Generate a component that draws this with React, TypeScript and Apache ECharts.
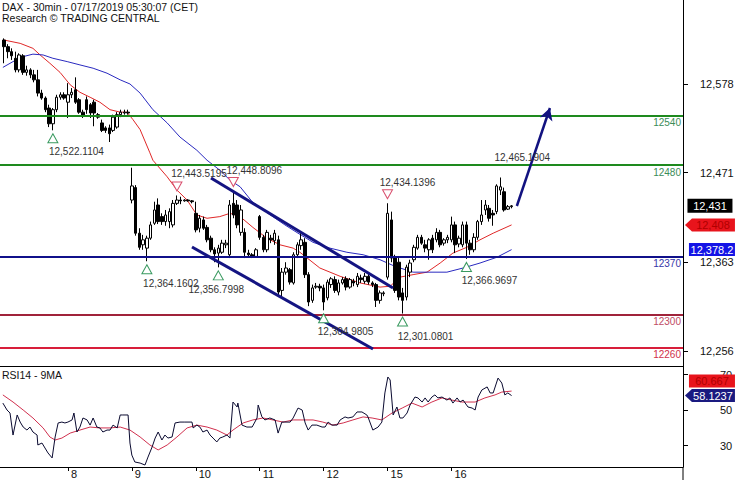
import React, { useEffect, useRef } from "react";
import * as echarts from "echarts";

const FONT = "'Liberation Sans', Arial, sans-serif";

const TITLE = "DAX - 30min - 07/17/2019 05:30:07 (CET)";
const SUBTITLE = "Research © TRADING CENTRAL";
const RSI_TITLE = "RSI14 - 9MA";

// 30-minute bars, one per slot: [open, close, low, high]
const bars: number[][] = [
  // Jul 5
  [12631, 12623, 12603, 12633], [12623, 12617, 12609, 12626], [12617, 12612, 12607, 12621],
  [12609, 12595, 12592, 12617], [12595, 12613, 12592, 12615], [12612, 12592, 12589, 12614],
  [12592, 12595, 12588, 12600], [12595, 12589, 12585, 12597], [12589, 12583, 12580, 12595],
  [12583, 12567, 12563, 12595], [12567, 12561, 12559, 12571], [12561, 12547, 12544, 12563],
  [12549, 12530, 12526, 12553], [12530, 12547, 12522.1104, 12549], [12547, 12562, 12544, 12565],
  [12562, 12565, 12559, 12568], [12565, 12561, 12559, 12568],
  // Jul 8
  [12556, 12565, 12537, 12579], [12565, 12568, 12561, 12573], [12571, 12556, 12554, 12586],
  [12559, 12544, 12542, 12561], [12544, 12539, 12537, 12547], [12559, 12547, 12542, 12563],
  [12553, 12543, 12537, 12555], [12556, 12543, 12527, 12559], [12541, 12538, 12536, 12543],
  [12531, 12522, 12520, 12535], [12525, 12522, 12519, 12527], [12525, 12518, 12508, 12529],
  [12522, 12538, 12520, 12541], [12526, 12541, 12524, 12544], [12541, 12544, 12538, 12547],
  [12543, 12544, 12541, 12547], [12544, 12543, 12541, 12547],
  // Jul 9
  [12438, 12455, 12434, 12477], [12453, 12398, 12395, 12456], [12398, 12381, 12378, 12404],
  [12384, 12390, 12378, 12396], [12380, 12392, 12364.1602, 12395], [12392, 12408, 12390, 12412],
  [12410, 12426, 12408, 12436], [12432, 12412, 12409, 12440], [12418, 12412, 12408, 12422],
  [12412, 12420, 12407, 12426], [12412, 12424, 12404, 12428], [12408, 12434, 12405, 12438],
  [12434, 12438, 12432, 12443.5195], [12438, 12437, 12433, 12442], [12437, 12438, 12436, 12439],
  [12438, 12437, 12436, 12439], [12437, 12436, 12434, 12438],
  // Jul 10
  [12422, 12402, 12399, 12436], [12404, 12416, 12399, 12420], [12414, 12404, 12402, 12418],
  [12405, 12390, 12387, 12408], [12392, 12378, 12375, 12395], [12378, 12373, 12363, 12381],
  [12374, 12380, 12356.7998, 12384], [12375, 12386, 12373, 12390], [12384, 12386, 12380, 12390],
  [12372, 12432, 12368, 12438], [12434, 12420, 12416, 12448.8096], [12432, 12408, 12404, 12438],
  [12399, 12426, 12395, 12432], [12399, 12375, 12368, 12404], [12374, 12372, 12369, 12378],
  [12372, 12370, 12368, 12374], [12370, 12378, 12369, 12380],
  // Jul 11
  [12418, 12393, 12390, 12420], [12393, 12378, 12375, 12396], [12378, 12399, 12375, 12402],
  [12392, 12390, 12386, 12396], [12389, 12398, 12384, 12402], [12390, 12327, 12322, 12395],
  [12329, 12351, 12320, 12356], [12351, 12356, 12348, 12363], [12354, 12339, 12336, 12356],
  [12338, 12372, 12336, 12375], [12372, 12384, 12368, 12387], [12383, 12390, 12378, 12398],
  [12387, 12348, 12344, 12392], [12348, 12315, 12310, 12351], [12317, 12332, 12314, 12336],
  [12333, 12334, 12331, 12338], [12334, 12332, 12328, 12337],
  // Jul 12
  [12332, 12315, 12304.9805, 12336], [12320, 12339, 12317, 12342], [12336, 12343, 12332, 12345],
  [12342, 12329, 12326, 12346], [12327, 12338, 12323, 12342], [12338, 12342, 12336, 12345],
  [12343, 12333, 12329, 12346], [12333, 12342, 12331, 12344], [12340, 12338, 12334, 12343],
  [12336, 12346, 12333, 12350], [12344, 12342, 12338, 12348], [12340, 12346, 12337, 12350],
  [12346, 12339, 12336, 12349], [12338, 12336, 12333, 12340], [12336, 12317, 12309, 12338],
  [12317, 12326, 12313, 12329], [12325, 12326, 12322, 12328],
  // Jul 15
  [12345, 12422, 12342, 12434.1396], [12414, 12368, 12363, 12424], [12368, 12329, 12326, 12372],
  [12363, 12321, 12317, 12368], [12326, 12317, 12301.0801, 12332], [12321, 12357, 12317, 12360],
  [12351, 12362, 12345, 12366], [12366, 12381, 12363, 12384], [12380, 12393, 12378, 12396],
  [12393, 12386, 12384, 12396], [12384, 12380, 12375, 12390], [12378, 12390, 12366, 12392],
  [12392, 12378, 12374, 12396], [12390, 12399, 12387, 12404], [12399, 12384, 12381, 12402],
  [12386, 12390, 12383, 12392], [12390, 12393, 12386, 12396],
  // Jul 16
  [12390, 12408, 12387, 12418], [12408, 12384, 12374, 12412], [12385, 12392, 12381, 12395],
  [12384, 12408, 12381, 12412], [12408, 12386, 12366.9697, 12412], [12386, 12378, 12372, 12390],
  [12378, 12393, 12375, 12398], [12393, 12412, 12390, 12414], [12412, 12420, 12408, 12438],
  [12426, 12432, 12420, 12438], [12428, 12416, 12412, 12432], [12422, 12420, 12407, 12426],
  [12424, 12455, 12421, 12457], [12450, 12454, 12444, 12465.1904], [12448, 12426, 12424, 12453],
  [12427, 12430, 12426, 12432], [12430, 12431, 12428, 12432],
];

const dayTickIndex = [17, 34, 51, 68, 85, 102, 119];
const dayLabels = ["8", "9", "10", "11", "12", "15", "16"];

const priceTicks = [12256, 12363, 12471, 12578];
const rsiTicks = [30, 50, 70];

// [bar position, price]
const maFast: number[][] = [
  [0, 12631], [4.3, 12627], [7.7, 12621], [9.6, 12613], [12.2, 12603], [14.9, 12592],
  [17.6, 12577], [20.2, 12568], [22.9, 12562], [25.5, 12556], [28.2, 12547], [30.9, 12544],
  [32.7, 12544], [34.3, 12535], [36.2, 12523], [38.8, 12495], [39.6, 12486], [43.4, 12466],
  [46.0, 12450], [48.7, 12438], [51.3, 12420], [54.0, 12416], [57.4, 12418], [60.1, 12422],
  [62.8, 12418], [66.2, 12405], [69.9, 12392], [73.4, 12384], [76.9, 12380], [78.7, 12375],
  [84.0, 12356], [89.4, 12346], [94.7, 12338], [100.0, 12333], [102.7, 12334], [105.3, 12345],
  [108.8, 12348], [112.5, 12351], [116.0, 12362], [119.4, 12374], [123.1, 12381],
  [126.6, 12390], [130.1, 12398], [135.0, 12408],
];
const maSlow: number[][] = [
  [-0.3, 12598], [2.4, 12605], [5.1, 12611], [7.7, 12614], [10.4, 12613], [13.0, 12609],
  [16.8, 12605], [20.2, 12601], [23.7, 12597], [27.4, 12591], [30.9, 12583], [33.5, 12578],
  [36.2, 12567], [39.6, 12547], [43.4, 12531], [46.8, 12514], [51.3, 12498], [54.0, 12486],
  [57.4, 12474], [60.1, 12462], [62.8, 12454], [66.0, 12436], [70.2, 12422], [74.7, 12408],
  [78.2, 12398], [82.2, 12387], [86.7, 12380], [91.2, 12375], [95.5, 12372], [100.0, 12366],
  [104.0, 12358], [108.8, 12351], [113.3, 12351], [117.8, 12351], [122.1, 12356],
  [126.6, 12362], [131.1, 12369], [135.0, 12378.2],
];

const rsi: number[][] = [
  [-0.3, 53.9], [0.8, 50.0], [1.6, 48.3], [2.4, 35.9], [3.5, 47.2], [4.3, 43.2], [5.1, 40.4],
  [6.1, 38.7], [6.9, 40.4], [7.7, 37.6], [8.8, 35.9], [9.0, 30.3], [10.1, 31.4], [10.9, 28.6],
  [11.7, 25.8], [12.8, 23.0], [13.6, 34.8], [14.4, 42.7], [15.4, 43.2], [16.2, 42.7],
  [17.0, 43.2], [18.1, 44.4], [18.6, 48.3], [19.4, 37.6], [20.2, 40.4], [21.0, 45.5],
  [22.1, 44.4], [22.9, 41.5], [23.7, 45.5], [24.7, 40.4], [25.5, 39.9], [26.3, 37.6],
  [27.4, 38.7], [28.2, 38.7], [29.0, 41.5], [30.1, 39.9], [30.9, 47.2], [31.6, 47.2],
  [33.0, 47.2], [33.5, 31.4], [34.0, 24.6], [34.8, 20.7], [36.2, 20.1], [37.5, 19.0],
  [38.3, 23.5], [39.4, 29.2], [40.2, 34.2], [41.0, 37.6], [42.0, 33.1], [42.8, 35.9],
  [43.6, 34.2], [44.7, 34.8], [45.5, 42.7], [46.8, 43.2], [48.1, 43.2], [50.0, 43.2],
  [50.3, 39.9], [51.3, 41.5], [52.1, 40.4], [52.9, 37.6], [54.0, 38.7], [54.8, 35.9],
  [55.6, 34.2], [56.6, 32.0], [57.4, 34.2], [58.2, 34.8], [59.3, 35.9], [60.1, 34.2],
  [60.9, 54.5], [62.0, 51.7], [62.2, 53.9], [63.3, 41.5], [64.6, 40.4], [66.0, 40.4],
  [67.3, 45.5], [67.6, 52.8], [68.6, 46.1], [69.4, 44.4], [70.7, 45.5], [72.1, 44.4],
  [72.9, 37.0], [73.9, 43.2], [74.7, 43.2], [76.1, 43.2], [76.9, 45.5], [78.2, 51.1],
  [79.3, 50.0], [80.1, 42.7], [80.9, 38.7], [81.9, 41.5], [83.2, 41.5], [84.6, 40.4],
  [85.4, 40.4], [86.2, 43.2], [87.2, 41.5], [88.6, 41.5], [89.4, 44.4], [90.7, 46.1],
  [91.5, 45.5], [92.8, 46.1], [93.9, 48.9], [95.2, 48.9], [96.5, 47.2], [96.8, 46.1],
  [98.1, 38.7], [99.5, 40.4], [100.5, 43.2], [101.3, 59.6], [102.1, 68.6], [102.7, 66.9],
  [103.5, 47.2], [104.5, 51.7], [105.3, 45.5], [106.1, 45.5], [107.2, 48.3], [108.0, 52.8],
  [109.3, 57.3], [110.1, 56.8], [111.2, 54.5], [112.0, 56.8], [112.8, 54.5], [113.8, 57.3],
  [114.6, 58.5], [115.4, 56.8], [116.5, 57.3], [117.8, 55.6], [118.6, 56.8], [119.4, 53.9],
  [120.5, 56.8], [121.3, 54.5], [122.1, 55.6], [123.4, 51.7], [124.5, 51.1], [125.3, 50.0],
  [126.1, 57.3], [127.1, 61.3], [128.5, 63.0], [129.3, 59.6], [130.1, 59.6], [131.4, 68.0],
  [132.4, 65.2], [133.2, 58.5], [134.0, 59.6], [135.0, 58.1237],
];
const rsiMa: number[][] = [
  [-0.3, 58.5], [2.4, 54.5], [5.1, 50.0], [7.7, 45.5], [10.4, 39.9], [12.2, 34.8], [13.6, 33.1],
  [15.4, 34.2], [17.6, 37.0], [20.2, 38.7], [22.9, 40.4], [25.5, 39.9], [28.2, 39.9],
  [30.9, 40.4], [33.5, 38.7], [36.2, 34.8], [38.8, 30.3], [41.0, 27.5], [43.4, 30.3],
  [46.0, 34.8], [48.7, 39.9], [51.3, 41.5], [54.0, 40.4], [56.6, 38.7], [59.3, 35.9],
  [60.9, 38.7], [63.6, 42.7], [66.2, 44.4], [68.9, 45.5], [71.5, 44.4], [74.2, 43.2],
  [76.9, 44.4], [79.5, 44.4], [82.2, 44.4], [84.8, 43.2], [87.5, 41.5], [90.2, 42.7],
  [92.8, 44.4], [95.5, 46.1], [97.9, 45.5], [100.5, 44.4], [103.2, 48.3], [105.9, 51.1],
  [108.5, 53.9], [111.2, 51.7], [113.8, 54.5], [116.5, 56.8], [119.1, 55.6], [121.8, 54.5],
  [125.3, 54.5], [127.9, 56.8], [130.6, 58.5], [132.4, 60.1], [135.0, 60.667],
];

const levels = [12540, 12480, 12370, 12300, 12260];

const channelUpper = [[55.05, 12464.6], [103.46, 12331.9]];
const channelLower = [[50.0, 12381.3], [98.14, 12258.3]];
const forecastArrow = [[136.4, 12430.8], [145.2, 12549.0]];

const swingLows = [
  [13, 12522.1104], [38, 12364.1602], [57, 12356.7998],
  [85, 12304.9805], [106, 12301.0801], [123, 12366.9697],
];
const swingHighs = [[46, 12443.5195], [61, 12448.8096], [102, 12434.1396]];
const peak = [132, 12465.1904];

const lastClose = 12431;
const lastFast = 12408;
const lastSlow = 12378.2;
const lastRsi = 58.1237;
const lastRsiMa = 60.667;

// ---- layout / styles ----
const XMIN = -1.064;
const XMAX = 180.59;
const TAG_X = XMAX - 0.01;
const PRICE_MIN = 12237.8;
const PRICE_MAX = 12679.3;
const RSI_MIN = 17.89;
const RSI_MAX = 74.79;

const levelLine = ["#1e8a1e", "#1e8a1e", "#10108a", "#a0233a", "#d81e3a"];
const levelText = ["#3a8c58", "#3a8c58", "#3535a8", "#c04c64", "#d0304a"];
const lowLabelOffset = [[23.5, 13], [24, 14], [-2, 14], [22, 13], [23, 15], [23, 14]];
const highLabelOffset = [[22, -13], [21, -12], [20, -12]];

const fmt4 = (v: number) =>
  v.toLocaleString("en-US", { minimumFractionDigits: 4, maximumFractionDigits: 4 });

const ARROW_TAG = "path://M0,7L7,0L50,0L50,14L7,14Z";

function buildOption(): any {
  const candleData = bars.map((b, i) => [i, b[0], b[1], b[2], b[3]]);

  const levelItems = levels.map((v, k) => ({
    yAxis: v,
    lineStyle: { color: levelLine[k], width: 2, type: "solid" },
    label: {
      show: true,
      position: "insideEndBottom",
      distance: [2, 2],
      formatter: String(v),
      color: levelText[k],
      fontSize: 10,
      fontFamily: FONT,
    },
  }));

  const trendStyle = { color: "#141482", width: 3, type: "solid" };
  const lineItems: any[] = [
    [
      { coord: channelUpper[0], lineStyle: trendStyle, label: { show: false } },
      { coord: channelUpper[1] },
    ],
    [
      { coord: channelLower[0], lineStyle: trendStyle, label: { show: false } },
      { coord: channelLower[1] },
    ],
    [
      {
        coord: forecastArrow[0],
        symbol: "none",
        lineStyle: { color: "#121280", width: 2.5, type: "solid" },
        label: { show: false },
      },
      { coord: forecastArrow[1], symbol: "arrow", symbolSize: [10, 12] },
    ],
  ];

  const textLabel = (txt: string, off: number[]) => ({
    show: true,
    position: "inside",
    offset: off,
    formatter: txt,
    color: "#333",
    fontSize: 10,
    fontFamily: FONT,
  });

  const pointItems: any[] = [
    ...swingLows.map((p, k) => ({
      coord: p,
      symbol: "triangle",
      symbolSize: [10, 9],
      symbolOffset: [0, 8],
      itemStyle: { color: "#fff", borderColor: "#3a9a60", borderWidth: 1 },
      label: textLabel(fmt4(p[1]), lowLabelOffset[k]),
    })),
    ...swingHighs.map((p, k) => ({
      coord: p,
      symbol: "triangle",
      symbolRotate: 180,
      symbolSize: [10, 9],
      symbolOffset: [0, -9],
      itemStyle: { color: "#fff", borderColor: "#d9506e", borderWidth: 1 },
      label: textLabel(fmt4(p[1]), highLabelOffset[k]),
    })),
    {
      coord: peak,
      symbol: "circle",
      symbolSize: 1,
      itemStyle: { color: "rgba(0,0,0,0)" },
      label: textLabel(fmt4(peak[1]), [22, -20]),
    },
    {
      coord: [TAG_X, lastClose],
      symbol: "rect",
      symbolSize: [45, 14],
      symbolOffset: [27, 0],
      itemStyle: { color: "#000" },
      label: {
        show: true,
        position: "inside",
        formatter: Math.round(lastClose).toLocaleString("en-US"),
        color: "#fff",
        fontSize: 11,
        fontFamily: FONT,
      },
    },
  ];

  return {
    animation: false,
    backgroundColor: "#fff",
    textStyle: { fontFamily: FONT },
    title: [
      {
        text: TITLE,
        subtext: SUBTITLE,
        left: 2,
        top: 1,
        padding: 0,
        itemGap: 0,
        textStyle: { fontSize: 10.5, fontWeight: "normal", color: "#111", fontFamily: FONT },
        subtextStyle: { fontSize: 10.5, color: "#111", fontFamily: FONT },
      },
      {
        text: RSI_TITLE,
        left: 2,
        top: 369,
        padding: 0,
        textStyle: { fontSize: 10.5, fontWeight: "normal", color: "#111", fontFamily: FONT },
      },
    ],
    grid: [
      { left: 0, top: 0, width: 683, height: 366, show: false, outerBoundsMode: "none" },
      { left: 0, top: 366, width: 683, height: 101, show: false, outerBoundsMode: "none" },
    ],
    xAxis: [
      {
        type: "value",
        gridIndex: 0,
        min: XMIN,
        max: XMAX,
        axisLine: { show: true, onZero: false, lineStyle: { color: "#000", width: 1 } },
        axisTick: { show: false },
        axisLabel: { show: false },
        splitLine: { show: false },
      },
      {
        type: "value",
        gridIndex: 1,
        min: XMIN,
        max: XMAX,
        axisLine: { show: true, onZero: false, lineStyle: { color: "#000", width: 1 } },
        axisTick: {
          show: true,
          customValues: dayTickIndex,
          length: 4,
          inside: false,
          lineStyle: { color: "#000" },
        },
        axisLabel: {
          show: true,
          customValues: dayTickIndex,
          formatter: (v: number) => dayLabels[dayTickIndex.indexOf(Math.round(v))] ?? "",
          align: "left",
          padding: [0, 0, 0, 3],
          margin: 1,
          fontSize: 11,
          color: "#111",
          fontFamily: FONT,
        },
        splitLine: { show: false },
      },
    ],
    yAxis: [
      {
        type: "value",
        gridIndex: 0,
        position: "right",
        min: PRICE_MIN,
        max: PRICE_MAX,
        axisLine: { show: true, onZero: false, lineStyle: { color: "#000", width: 1 } },
        axisTick: { show: true, customValues: priceTicks, length: 5, lineStyle: { color: "#000" } },
        axisLabel: {
          show: true,
          customValues: priceTicks,
          formatter: (v: number) => Math.round(v).toLocaleString("en-US"),
          margin: 17,
          fontSize: 11,
          color: "#111",
          fontFamily: FONT,
        },
        splitLine: { show: false },
      },
      {
        type: "value",
        gridIndex: 1,
        position: "right",
        min: RSI_MIN,
        max: RSI_MAX,
        axisLine: { show: true, onZero: false, lineStyle: { color: "#000", width: 1 } },
        axisTick: { show: true, customValues: rsiTicks, length: 5, lineStyle: { color: "#000" } },
        axisLabel: {
          show: true,
          customValues: rsiTicks,
          formatter: (v: number) => String(Math.round(v)),
          margin: 37,
          fontSize: 11,
          color: "#111",
          fontFamily: FONT,
        },
        splitLine: { show: false },
      },
    ],
    graphic: [
      {
        type: "line",
        shape: { x1: 683, y1: 467, x2: 683, y2: 480 },
        style: { stroke: "#000", lineWidth: 1 },
      },
    ],
    series: [
      {
        type: "line",
        name: "MA fast",
        xAxisIndex: 0,
        yAxisIndex: 0,
        data: maFast,
        showSymbol: false,
        symbol: "none",
        lineStyle: { color: "#e02828", width: 1 },
        z: 3,
        markPoint: {
          silent: true,
          data: [
            {
              coord: [TAG_X, lastFast],
              symbol: ARROW_TAG,
              symbolKeepAspect: false,
              symbolSize: [50, 13],
              symbolOffset: [27, 0],
              itemStyle: { color: "#e8141c" },
              label: {
                show: true,
                position: "inside",
                offset: [3, 0],
                formatter: Math.round(lastFast).toLocaleString("en-US"),
                color: "#b00000",
                fontSize: 11,
                fontFamily: FONT,
              },
            },
          ],
        },
      },
      {
        type: "line",
        name: "MA slow",
        xAxisIndex: 0,
        yAxisIndex: 0,
        data: maSlow,
        showSymbol: false,
        symbol: "none",
        lineStyle: { color: "#2a2ac0", width: 1 },
        z: 3,
        markPoint: {
          silent: true,
          data: [
            {
              coord: [TAG_X, lastSlow],
              symbol: "rect",
              symbolSize: [46, 13],
              symbolOffset: [29, 0],
              itemStyle: { color: "#1414e6" },
              label: {
                show: true,
                position: "inside",
                formatter: lastSlow.toLocaleString("en-US", { minimumFractionDigits: 1 }),
                color: "#fff",
                fontSize: 11,
                fontFamily: FONT,
              },
            },
          ],
        },
      },
      {
        type: "candlestick",
        name: "DAX",
        xAxisIndex: 0,
        yAxisIndex: 0,
        data: candleData,
        barWidth: 3,
        z: 4,
        itemStyle: {
          color: "#fff",
          color0: "#000",
          borderColor: "#000",
          borderColor0: "#000",
          borderWidth: 1,
        },
        markLine: {
          silent: true,
          symbol: ["none", "none"],
          data: [...levelItems, ...lineItems],
        },
        markPoint: { silent: true, data: pointItems },
      },
      {
        type: "line",
        name: "RSI14",
        xAxisIndex: 1,
        yAxisIndex: 1,
        data: rsi,
        showSymbol: false,
        symbol: "none",
        lineStyle: { color: "#0a0a30", width: 1 },
        z: 4,
        markPoint: {
          silent: true,
          data: [
            {
              coord: [TAG_X, lastRsi],
              symbol: ARROW_TAG,
              symbolKeepAspect: false,
              symbolSize: [50, 13],
              symbolOffset: [27, 0],
              itemStyle: { color: "#1a1a80" },
              label: {
                show: true,
                position: "inside",
                offset: [3, 0],
                formatter: String(lastRsi),
                color: "#fff",
                fontSize: 11,
                fontFamily: FONT,
              },
            },
          ],
        },
      },
      {
        type: "line",
        name: "RSI MA9",
        xAxisIndex: 1,
        yAxisIndex: 1,
        data: rsiMa,
        showSymbol: false,
        symbol: "none",
        lineStyle: { color: "#d0304e", width: 1 },
        z: 3,
        markPoint: {
          silent: true,
          data: [
            {
              coord: [TAG_X, lastRsiMa],
              symbol: "rect",
              symbolSize: [46, 13],
              symbolOffset: [29, -10],
              itemStyle: { color: "#e8141c" },
              label: {
                show: true,
                position: "inside",
                formatter: String(lastRsiMa),
                color: "#b00000",
                fontSize: 11,
                fontFamily: FONT,
              },
            },
          ],
        },
      },
    ],
  };
}

export default function App() {
  const ref = useRef<HTMLDivElement>(null);
  useEffect(() => {
    if (!ref.current) return;
    const chart = echarts.init(ref.current, null, { renderer: "svg" });
    chart.setOption(buildOption());
    return () => chart.dispose();
  }, []);
  return (
    <div
      ref={ref}
      style={{ position: "absolute", left: 0, top: 0, width: 735, height: 480, background: "#fff" }}
    />
  );
}
